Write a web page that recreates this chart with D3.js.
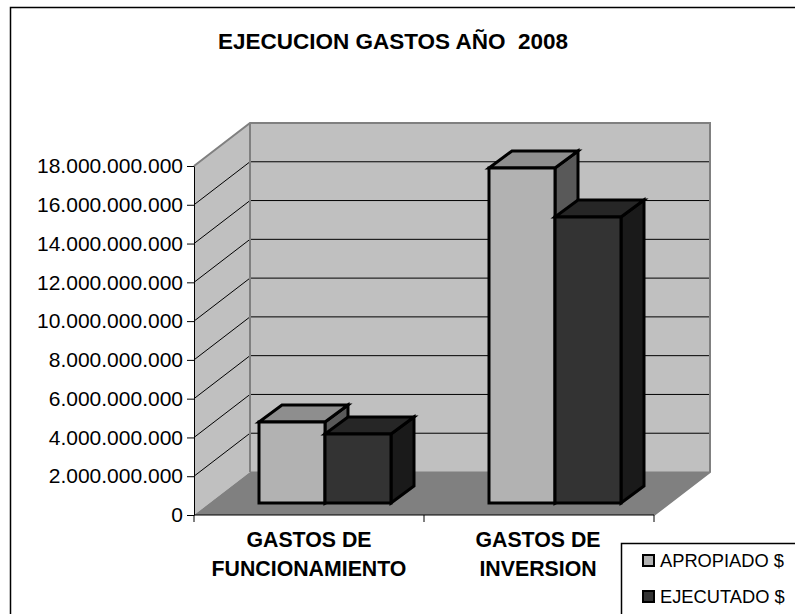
<!DOCTYPE html>
<html><head><meta charset="utf-8">
<script src="https://cdn.jsdelivr.net/npm/d3@7/dist/d3.min.js"></script>
<style>html,body{margin:0;padding:0;background:#fff}svg{display:block}text{font-family:"Liberation Sans",Arial,sans-serif;fill:#000}</style>
</head><body><svg id="c" width="795" height="614"></svg>
<script>
const chartTitle = "EJECUCION GASTOS AÑO  2008";
const categories = [["GASTOS DE","FUNCIONAMIENTO"],["GASTOS DE","INVERSION"]];
const seriesNames = ["APROPIADO $","EJECUTADO $"];
const apropiado = [4.18e9, 17.28e9];
const ejecutado = [3.56e9, 14.75e9];
const tickValues = [0,2e9,4e9,6e9,8e9,10e9,12e9,14e9,16e9,18e9];
const frontFill = ["#b2b2b2","#333333"];
const topFill = ["#8e8e8e","#262626"];
const sideFill = ["#595959","#1a1a1a"];

const svg = d3.select("#c");
const y = d3.scaleLinear().domain([0,18e9]).range([515,166]);
const x = d3.scaleBand().domain([0,1]).range([194,654]);
const dx = 56, dy = -43;
const fmt = v => d3.format(",")(v).replace(/,/g,".");
const poly = (g,pts,fill,stroke,w) => g.append("polygon").attr("points",pts.map(p=>p.join(",")).join(" "))
  .attr("fill",fill).attr("stroke",stroke||"none").attr("stroke-width",w||0).attr("stroke-linejoin","miter");

svg.append("path").attr("d","M10.5,614V7.5H795").attr("fill","none").attr("stroke","#000").attr("stroke-width",1.5);

svg.append("text").attr("x",393).attr("y",49).attr("text-anchor","middle").attr("font-size",22.5).attr("font-weight","bold").style("white-space","pre").text(chartTitle);

const xL = x.range()[0], xR = x.range()[1], yB = y(0), yT = y(18e9);
const walls = svg.append("g");
poly(walls,[[xL+dx,yB+dy],[xR+dx,yB+dy],[xR+dx,yT+dy],[xL+dx,yT+dy]],"#c0c0c0");
poly(walls,[[xL,yB],[xL+dx,yB+dy],[xL+dx,yT+dy],[xL,yT]],"#c0c0c0");
poly(walls,[[xL,yB],[xR,yB],[xR+dx,yB+dy],[xL+dx,yB+dy]],"#808080");

const grid = svg.append("g");
tickValues.slice(1,-1).forEach(v=>{
  const yy = y(v);
  grid.append("line").attr("x1",xL).attr("y1",yy).attr("x2",xL+dx).attr("y2",yy+dy).attr("stroke","#000").attr("stroke-width",1);
  grid.append("line").attr("x1",xL+dx).attr("y1",yy+dy).attr("x2",xR+dx).attr("y2",yy+dy).attr("stroke","#000").attr("stroke-width",1);
});
const outline = svg.append("g").attr("fill","none").attr("stroke","#808080").attr("stroke-width",2);
outline.append("path").attr("d",`M${xL},${yT}L${xL+dx},${yT+dy}L${xR+dx},${yT+dy}L${xR+dx},${yB+dy}L${xR},${yB}`);
outline.append("path").attr("d",`M${xL+dx},${yT+dy}L${xL+dx},${yB+dy}`);
outline.append("path").attr("d",`M${xL+dx},${yB+dy}L${xR+dx},${yB+dy}`).attr("stroke-width",1);

const bw = 66, bdx = 23, bdy = -17, barBase = 12;
const barG = svg.append("g");
const series = [apropiado, ejecutado];
categories.forEach((c,ci)=>{
  const groupLeft = x(ci) + 65;
  series.forEach((vals,si)=>{
    const xl = groupLeft + si*bw, xr = xl + bw;
    const yb = y(0) - barBase, yt = y(vals[ci]) - barBase;
    const g = barG.append("g");
    poly(g,[[xr,yb],[xr+bdx,yb+bdy],[xr+bdx,yt+bdy],[xr,yt]],sideFill[si],"#000",3);
    poly(g,[[xl,yt],[xr,yt],[xr+bdx,yt+bdy],[xl+bdx,yt+bdy]],topFill[si],"#000",3);
    poly(g,[[xl,yb],[xr,yb],[xr,yt],[xl,yt]],frontFill[si],"#000",3);
  });
});

const yAxis = d3.axisLeft(y).tickValues(tickValues).tickFormat(fmt).tickSize(7).tickPadding(4).tickSizeOuter(0);
const gy = svg.append("g").attr("transform",`translate(${xL},0)`).call(yAxis);
gy.selectAll("text").attr("font-size",21).attr("font-family",null).style("font-family",'"Liberation Sans",Arial,sans-serif');
gy.selectAll("line,path").attr("stroke","#000");

const gx = svg.append("g").attr("transform",`translate(0,${yB})`);
gx.append("line").attr("x1",xL).attr("x2",xR).attr("stroke","#000");
[0,1,2].forEach(i=>{
  const xx = i<2 ? x(i) : xR;
  gx.append("line").attr("x1",xx).attr("x2",xx).attr("y1",0).attr("y2",7).attr("stroke","#000");
});
const labelCx = d3.scaleOrdinal().domain([0,1]).range([309,538]);
categories.forEach((c,ci)=>{
  c.forEach((t,li)=>{
    svg.append("text").attr("x",labelCx(ci)).attr("y",547+li*28.5).attr("text-anchor","middle").attr("font-size",21.3).attr("font-weight","bold").text(t);
  });
});

const lg = svg.append("g");
lg.append("path").attr("d","M621.5,614V543.5H795").attr("fill","#fff").attr("stroke","#000").attr("stroke-width",1.5);
seriesNames.forEach((n,i)=>{
  const yy = 561 + i*36;
  lg.append("rect").attr("x",643).attr("y",yy-6).attr("width",11).attr("height",11).attr("fill",frontFill[i]).attr("stroke","#000").attr("stroke-width",2);
  lg.append("text").attr("x",660).attr("y",yy+6).attr("font-size",18.3).text(n);
});
</script></body></html>
